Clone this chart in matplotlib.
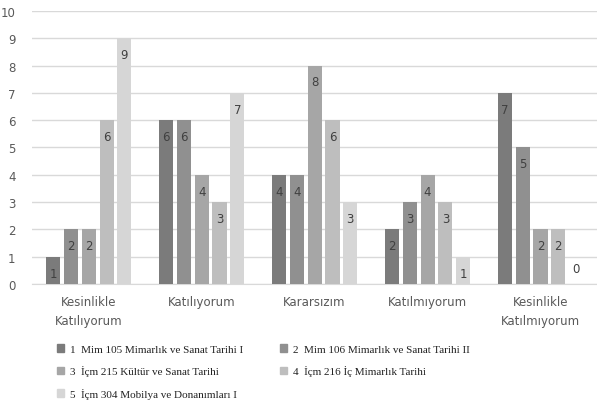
import numpy as np
import matplotlib
matplotlib.use('Agg')
import matplotlib.pyplot as plt
from matplotlib.patches import Patch

categories = ['Kesinlikle\nKatılıyorum', 'Katılıyorum', 'Kararsızım', 'Katılmıyorum', 'Kesinlikle\nKatılmıyorum']
series_names = ['Mim 105 Mimarlık ve Sanat Tarihi I',
                'Mim 106 Mimarlık ve Sanat Tarihi II',
                'İçm 215 Kültür ve Sanat Tarihi',
                'İçm 216 İç Mimarlık Tarihi',
                'İçm 304 Mobilya ve Donanımları I']
s1 = [1, 6, 4, 2, 7]
s2 = [2, 6, 4, 3, 5]
s3 = [2, 4, 8, 4, 2]
s4 = [6, 3, 6, 3, 2]
s5 = [9, 7, 3, 1, 0]
series = [s1, s2, s3, s4, s5]
colors = ['#7b7b7b', '#909090', '#a6a6a6', '#bebebe', '#d6d6d6']

fig = plt.figure(figsize=(5.97, 4.10), dpi=100)
ax = fig.add_axes([0.054, 0.305, 0.946, 0.666])

x = np.arange(len(categories))
width = 0.125
step = 0.158
for i, vals in enumerate(series):
    pos = x + (i - 2) * step
    ax.bar(pos, vals, width=width, color=colors[i], zorder=3)
    for p, v in zip(pos, vals):
        if v > 0:
            ax.text(p, v - 0.6, str(v), ha='center', va='center', fontsize=8.5, color='#404040', zorder=4)
        else:
            ax.text(p, 0.55, str(v), ha='center', va='center', fontsize=8.5, color='#404040', zorder=4)

ax.set_xlim(-0.5, 4.5)
ax.set_ylim(0, 10)
ax.set_yticks(range(0, 11))
ax.yaxis.grid(True, color='#d9d9d9', lw=1, zorder=0)
ax.set_xticks(x)
ax.set_xticklabels(categories, fontsize=8.5, color='#595959', linespacing=1.6)
ax.tick_params(axis='both', length=0, labelsize=8.5, labelcolor='#595959')
ax.tick_params(axis='x', pad=8)
ax.tick_params(axis='y', pad=12)
for sp in ['top', 'right', 'left']:
    ax.spines[sp].set_visible(False)
ax.spines['bottom'].set_color('#d9d9d9')

# legend is filled column-first, reorder so it reads row by row like the original
order = [0, 2, 4, 1, 3]
handles = [Patch(color=colors[i]) for i in order]
labels = [f'{i + 1}  {series_names[i]}' for i in order]
leg = fig.legend(handles, labels, loc='upper left', bbox_to_anchor=(0.078, 0.183), ncol=2,
                 frameon=False, prop={'family': 'Liberation Serif', 'size': 8},
                 handlelength=0.7, handleheight=0.7, handletextpad=0.5,
                 columnspacing=3.3, labelspacing=1.05)
for t in leg.get_texts():
    t.set_color('#222222')

fig.savefig('out.png', dpi=100)
